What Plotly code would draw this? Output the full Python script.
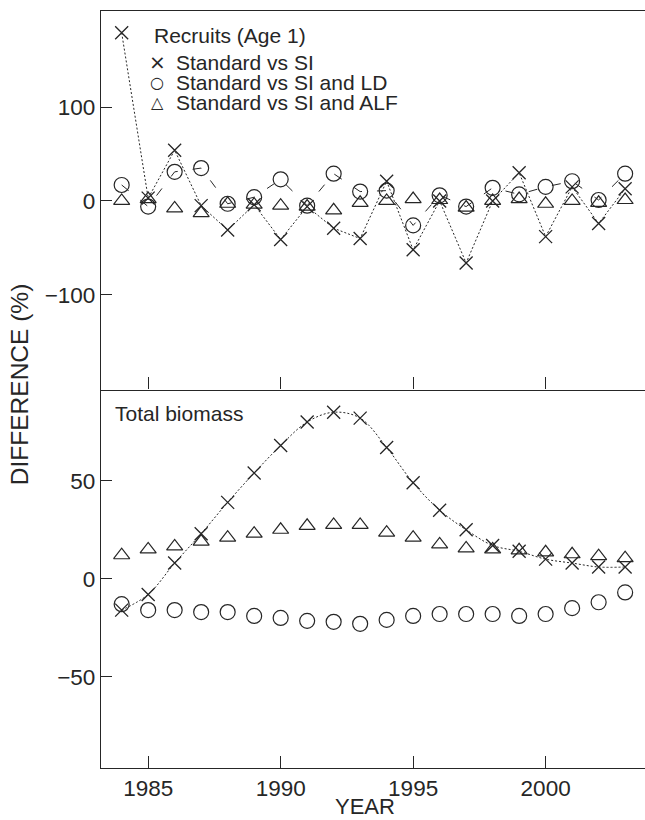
import plotly.graph_objects as go

years = list(range(1984, 2004))

# Recruits (Age 1) – top panel
rec_si = [179, 3, 54, -5, -31, -4, -41, -6, -29, -40, 21, -52, 0, -66, 0, 30, -38, 15, -24, 13]
rec_si_ld = [17, -6, 31, 35, -3, 4, 23, -5, 29, 10, 11, -26, 6, -6, 14, 7, 15, 21, 1, 29]
rec_si_alf = [0, 2, -8, -13, -3, -4, -5, -6, -10, -2, 0, 2, 1, -7, 0, 2, -3, 0, -2, 1]

# Total biomass – bottom panel
bio_si = [-16, -8, 8, 23, 39, 54, 68, 80, 85, 82, 67, 49, 35, 25, 17, 14, 10, 8, 6, 6]
bio_si_ld = [-13, -16, -16, -17, -17, -19, -20, -21.5, -22, -23, -21, -19, -18, -18, -18, -19, -18, -15, -12, -7]
bio_si_alf = [12, 15, 16.5, 19, 21, 23, 25, 27, 27.5, 27.5, 23.5, 21, 17.5, 15.5, 15, 14.5, 13.5, 12.5, 11.5, 10.5]

x_ticks = [1985, 1990, 1995, 2000]
top_ticks = [-100, 0, 100]
bot_ticks = [-50, 0, 50]

legend_labels = ["Standard vs SI", "Standard vs SI and LD", "Standard vs SI and ALF"]
legend_syms = ["×", "○", "△"]

INK = "#262626"
FONT = "Liberation Sans, Arial, sans-serif"

fig = go.Figure()

def mk(symbol, size, width=1.2):
    return dict(symbol=symbol, size=size, color=INK, line=dict(color=INK, width=width))

# Top panel
fig.add_trace(go.Scatter(x=years, y=rec_si, mode="lines+markers",
                         line=dict(color=INK, width=1, dash="2px,2px"),
                         marker=mk("x-thin-open", 13, 1.3), xaxis="x", yaxis="y"))
fig.add_trace(go.Scatter(x=years, y=rec_si_ld, mode="lines+markers",
                         line=dict(color=INK, width=1, dash="9px,15px"),
                         marker=mk("circle-open", 15), xaxis="x", yaxis="y"))
fig.add_trace(go.Scatter(x=years, y=rec_si_alf, mode="markers",
                         marker=mk("triangle-up-open", 14), xaxis="x", yaxis="y"))

# Bottom panel
fig.add_trace(go.Scatter(x=years, y=bio_si, mode="lines+markers", line_shape="spline",
                         line=dict(color=INK, width=1, dash="2px,2px"),
                         marker=mk("x-thin-open", 13, 1.3), xaxis="x2", yaxis="y2"))
fig.add_trace(go.Scatter(x=years, y=bio_si_ld, mode="markers",
                         marker=mk("circle-open", 15), xaxis="x2", yaxis="y2"))
fig.add_trace(go.Scatter(x=years, y=bio_si_alf, mode="markers",
                         marker=mk("triangle-up-open", 14), xaxis="x2", yaxis="y2"))

xr = [1983.22, 2003.75]
axis_common = dict(showline=True, linecolor=INK, linewidth=1.3, ticks="inside",
                   tickcolor=INK, tickwidth=1.2, showgrid=False, zeroline=False,
                   tickfont=dict(family=FONT, size=22.5, color=INK))

fig.update_layout(
    width=645, height=820,
    margin=dict(l=101, r=0, t=11, b=52),
    paper_bgcolor="white", plot_bgcolor="white",
    showlegend=False,
    font=dict(family=FONT, color=INK),
    xaxis=dict(domain=[0, 1], range=xr, anchor="y", tickvals=x_ticks, showticklabels=False,
               ticklen=12, mirror=True, **axis_common),
    yaxis=dict(domain=[0.5, 1], range=[-200.7, 202.2], anchor="x", tickvals=top_ticks,
               ticklen=11, **axis_common),
    xaxis2=dict(domain=[0, 1], range=xr, anchor="y2", tickvals=x_ticks, ticklen=12,
                **axis_common),
    yaxis2=dict(domain=[0, 0.5], range=[-96.6, 96.6], anchor="x2", tickvals=bot_ticks,
                ticklen=11, **axis_common),
)

ann = []
# Panel titles
ann.append(dict(text="Recruits (Age 1)", xref="paper", yref="paper",
                x=(152 - 101) / 544, y=1 - (35 - 11) / 756.7, xanchor="left", yanchor="middle",
                showarrow=False, font=dict(family=FONT, size=21, color=INK)))
ann.append(dict(text="Total biomass", xref="paper", yref="paper",
                x=(113 - 101) / 544, y=1 - (413 - 11) / 756.7, xanchor="left", yanchor="middle",
                showarrow=False, font=dict(family=FONT, size=21, color=INK)))
# Legend rows
rows_y = [62, 82, 102]
sym_sizes = [20, 16, 16]
for lab, sym, ry, ss in zip(legend_labels, legend_syms, rows_y, sym_sizes):
    ann.append(dict(text=sym, xref="paper", yref="paper",
                    x=(157 - 101) / 544, y=1 - (ry - 11) / 756.7, xanchor="center", yanchor="middle",
                    showarrow=False, font=dict(family="DejaVu Sans", size=ss, color=INK)))
    ann.append(dict(text=lab, xref="paper", yref="paper",
                    x=(174 - 101) / 544, y=1 - (ry - 11) / 756.7, xanchor="left", yanchor="middle",
                    showarrow=False, font=dict(family=FONT, size=21, color=INK)))
# Axis titles
ann.append(dict(text="DIFFERENCE (%)", xref="paper", yref="paper",
                x=(19 - 101) / 544, y=1 - (385 - 11) / 756.7, xanchor="center", yanchor="middle",
                textangle=-90, showarrow=False, font=dict(family=FONT, size=24.5, color=INK)))
ann.append(dict(text="YEAR", xref="paper", yref="paper",
                x=(365 - 101) / 544, y=-(819.5 - 767.7) / 756.7, xanchor="center", yanchor="bottom",
                showarrow=False, borderpad=0, font=dict(family=FONT, size=22, color=INK)))
fig.update_layout(annotations=ann)

fig.write_html("out.html")
